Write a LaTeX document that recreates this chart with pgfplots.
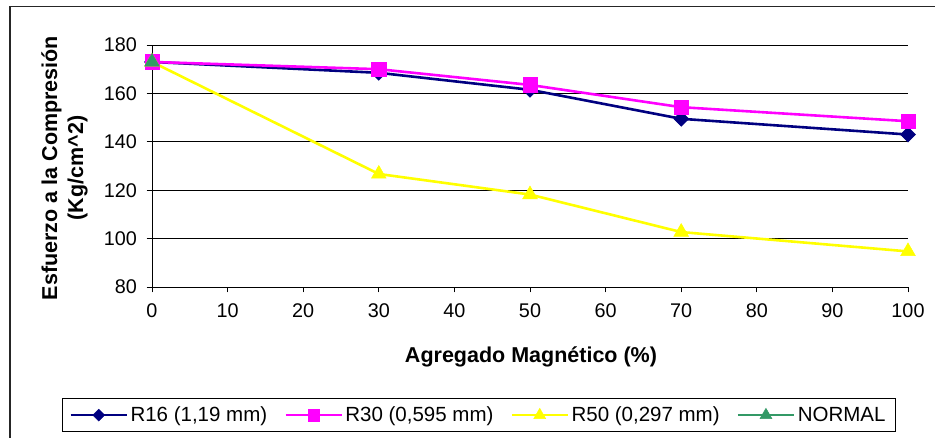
\documentclass[border=0pt]{standalone}
\usepackage{pgfplots}
\pgfplotsset{compat=1.18}
\usepackage{fontspec}
\setmainfont{Liberation Sans}

\definecolor{rsixteen}{HTML}{000080}
\definecolor{rthirty}{HTML}{FF00FF}
\definecolor{rfifty}{HTML}{FFFF00}
\definecolor{normalc}{HTML}{339966}

\begin{document}
\begin{tikzpicture}[x=1pt,y=1pt]
\path[use as bounding box] (0,0) rectangle (935,438);
% chart area frame
\draw[line width=1.6pt, black!85] (10,0) -- (10,431.5) -- (936,431.5);
\begin{axis}[
  at={(152pt,151pt)}, anchor=south west,
  scale only axis, width=756pt, height=242pt,
  xmin=0, xmax=100, ymin=80, ymax=180,
  xtick={0,10,...,100}, ytick={80,100,...,180},
  axis lines*=left,
  axis line style={black, line width=0.9pt},
  ymajorgrids, grid style={black, line width=0.9pt},
  tick align=outside, major tick length=5.5pt,
  tick style={black, line width=0.9pt},
  /pgf/number format/assume math mode=true,
  ticklabel style={font=\fontsize{19.8}{22}\selectfont, inner sep=0pt},
  yticklabel style={anchor=east, xshift=-9.5pt},
  xticklabel style={anchor=north, yshift=-10.5pt},
  clip=false,
  legend columns=4,
  legend style={at={(0,0)}, anchor=north west, xshift=-90pt, yshift=-111pt,
    draw=black, line width=0.9pt, fill=white,
    font=\fontsize{20.5}{24}\selectfont,
    inner xsep=7pt, inner ysep=6.5pt,
    nodes={inner xsep=2.5pt, inner ysep=2pt},
    /tikz/every even column/.append style={column sep=14.5pt}},
  legend cell align=left,
  legend image code/.code={
    \draw[mark repeat=2, mark phase=2, every mark/.append style={scale=0.8}]
      plot coordinates {(0pt,0pt) (28pt,0pt) (56pt,0pt)};},
]
\addplot[rsixteen, line width=2.6pt, mark=square*, mark size=5.3pt,
  mark options={solid, rotate=45, fill=rsixteen, draw=rsixteen, line width=0.5pt}]
  coordinates {(0,173) (30,168.5) (50,161.5) (70,149.5) (100,143)};
\addlegendentry{R16 (1,19 mm)}
\addplot[rthirty, line width=2.6pt, mark=square*, mark size=7.2pt,
  mark options={solid, fill=rthirty, draw=rthirty, line width=0.5pt}]
  coordinates {(0,173) (30,170) (50,163.5) (70,154.3) (100,148.5)};
\addlegendentry{R30 (0,595 mm)}
\addplot[rfifty, line width=2.6pt, mark=triangle*, mark size=8.5pt,
  mark options={solid, fill=rfifty, draw=rfifty, line width=0.5pt}]
  coordinates {(0,173) (30,126.7) (50,118.2) (70,102.7) (100,94.7)};
\addlegendentry{R50 (0,297 mm)}
\addplot[normalc, line width=2.6pt, mark=triangle*, mark size=8.5pt,
  mark options={solid, fill=normalc, draw=normalc, line width=0.5pt}]
  coordinates {(0,173)};
\addlegendentry{NORMAL}
\end{axis}
% axis titles
\node[font=\bfseries\fontsize{21.5}{24}\selectfont, anchor=base] at (531,75)
  {Agregado Magnético (\%)};
\node[font=\bfseries\fontsize{21.5}{24}\selectfont, anchor=base, rotate=90] at (57,270)
  {Esfuerzo a la Compresión};
\node[font=\bfseries\fontsize{21.5}{24}\selectfont, anchor=base, rotate=90] at (83,270)
  {(Kg/cm\textasciicircum 2)};
\end{tikzpicture}
\end{document}
